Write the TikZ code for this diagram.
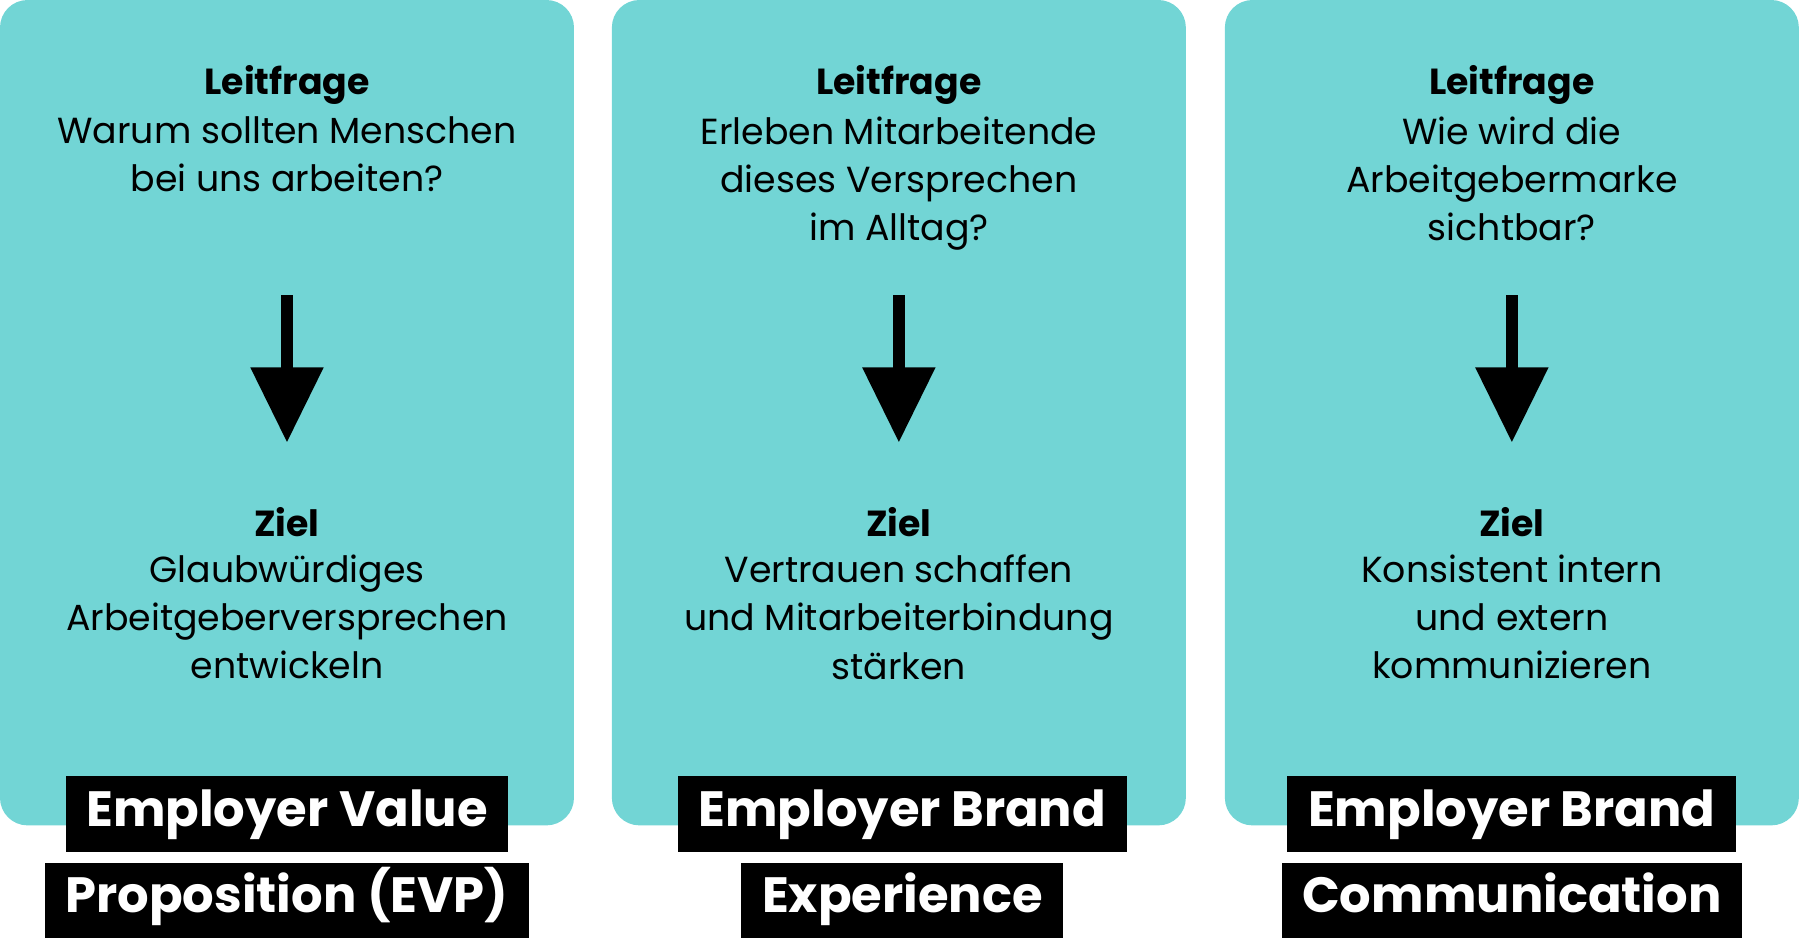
\documentclass[tikz,border=0pt]{standalone}
\usepackage{fontspec}
\setmainfont{Poppins}
\usetikzlibrary{positioning}
\definecolor{panelcol}{RGB}{114,213,213}
\tikzset{
  panel/.style={fill=panelcol, rounded corners=12pt},
  txt/.style={align=center, font=\fontsize{15.8}{21}\selectfont, inner sep=0pt},
  head/.style={font=\fontsize{15.8}{21}\selectfont\bfseries, inner sep=0pt},
  tag/.style={fill=black, text=white, font=\fontsize{21.6}{26}\selectfont\bfseries,
    minimum height=33pt, inner xsep=9pt, text depth=0.14em, text height=1.2em},
}
\begin{document}
\begin{tikzpicture}[x=0.5pt,y=-0.5pt]
\useasboundingbox (0,0) rectangle (1568,818);

% panels
\foreach \cx/\n in {250/a,783/b,1317/c}{
  \fill[panel] (\cx-250,0) rectangle (\cx+250,719);
  % arrow
  \fill (\cx-5,257) rectangle (\cx+5,322);
  \fill (\cx-32,320) -- (\cx+32,320) -- (\cx,385) -- cycle;
  \node[head] (lf\n) at (\cx,74) {Leitfrage};
  \node[head] (zl\n) at (\cx,455) {Ziel};
}

% questions
\node[txt, anchor=north] (qa) at (250,101) {Warum sollten Menschen\\bei uns arbeiten?};
\node[txt, anchor=north] (qb) at (783,101) {Erleben Mitarbeitende\\dieses Versprechen\\im Alltag?};
\node[txt, anchor=north] (qc) at (1317,101) {Wie wird die\\Arbeitgebermarke\\sichtbar?};

% goals
\node[txt, anchor=north] (ga) at (250,483) {Glaubwürdiges\\Arbeitgeberversprechen\\entwickeln};
\node[txt, anchor=north] (gb) at (783,483) {Vertrauen schaffen\\und Mitarbeiterbindung\\stärken};
\node[txt, anchor=north] (gc) at (1317,483) {Konsistent intern\\und extern\\kommunizieren};

% labels
\node[tag] (ta1) at (250,709) {Employer Value};
\node[tag] (ta2) at (250,784.5) {Proposition (EVP)};
\node[tag] (tb1) at (786,709) {Employer Brand};
\node[tag] (tb2) at (786,784.5) {Experience};
\node[tag] (tc1) at (1317,709) {Employer Brand};
\node[tag] (tc2) at (1317,784.5) {Communication};
\end{tikzpicture}
\end{document}
